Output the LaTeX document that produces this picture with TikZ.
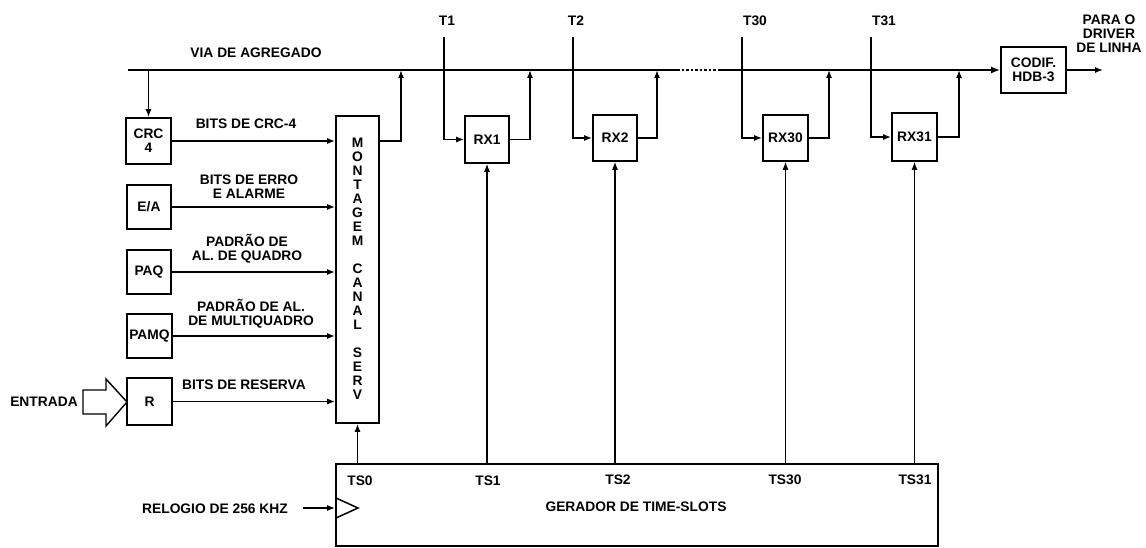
\documentclass[tikz,border=0pt]{standalone}
\usepackage{fontspec}
\setmainfont{Liberation Sans}
\usetikzlibrary{arrows.meta}
\begin{document}
\begin{tikzpicture}[x=1pt,y=-1pt,
  every node/.style={font=\bfseries\fontsize{13.8}{14}\selectfont, inner sep=0pt},
  box/.style={draw, line width=1.6pt, inner sep=0pt, align=center},
  arr/.style={line width=1.5pt, -{Latex[length=8pt,width=6pt]}},
  thinarr/.style={line width=1.1pt, -{Latex[length=8pt,width=6pt]}},
  bus/.style={line width=2.8pt},
  lbl/.style={align=center}]
\useasboundingbox (0,0) rectangle (1146,548);

% boxes
\node[box, minimum width=45pt, minimum height=46pt] (crc) at (148.5,141) {CRC\\4};
\node[box, minimum width=44pt, minimum height=44pt] (ea) at (149,207) {E/A};
\node[box, minimum width=44pt, minimum height=44pt] (paq) at (149,272) {PAQ};
\node[box, minimum width=45pt, minimum height=44pt] (pamq) at (149.5,336) {PAMQ};
\node[box, minimum width=45pt, minimum height=47pt] (r) at (149.5,401.5) {R};
\node[box, minimum width=43pt, minimum height=307pt] (mont) at (357.5,269.5) {};
\node[box, minimum width=44pt, minimum height=47pt] (rx1) at (487,139.5) {RX1};
\node[box, minimum width=44pt, minimum height=46pt] (rx2) at (615,138) {RX2};
\node[box, minimum width=45pt, minimum height=46pt] (rx30) at (785.5,138) {RX30};
\node[box, minimum width=45pt, minimum height=48pt] (rx31) at (914.5,137) {RX31};
\node[box, minimum width=65pt, minimum height=46pt] (codif) at (1033.5,70) {CODIF.\\HDB-3};
\node[box, minimum width=602pt, minimum height=82pt] (gen) at (637,505) {};

% MONTAGEM CANAL SERV letters
\foreach \ch/\k in {M/0,O/1,N/2,T/3,A/4,G/5,E/6,M/7,C/9,A/10,N/11,A/12,L/13,S/15,E/16,R/17,V/18}
  \node (m\k) at (357.5,{143+14*\k}) {\ch};

% bus
\coordinate (busL) at (128,70);
\coordinate (dotA) at (677,70);
\coordinate (dotB) at (718,70);
\draw[bus] (busL) -- (dotA);
\draw[bus, dash pattern=on 2.5pt off 2pt] (dotA) -- (dotB);
\draw[bus, -{Latex[length=9pt,width=7pt]}] (dotB) -- (codif.west);
\node (lvia) at (256,53) {VIA DE AGREGADO};

% CRC drop
\coordinate (crcTop) at (crc.north |- busL);
\draw[arr] (crcTop) -- (crc.north);

% inputs to MONT
\foreach \n in {crc,ea,paq,pamq,r}
  \draw[arr] (\n.east) -- (\n.east -| mont.west);
\node[lbl] (lcrc) at (246,124) {BITS DE CRC-4};
\node[lbl] (lea) at (249,186.5) {BITS DE ERRO\\E ALARME};
\node[lbl] (lpaq) at (247,249) {PADRÃO DE\\AL. DE QUADRO};
\node[lbl] (lpamq) at (251,314) {PADRÃO DE AL.\\DE MULTIQUADRO};
\node[lbl] (lr) at (244,385) {BITS DE RESERVA};

% MONT output
\coordinate (mo) at (401,70);
\draw[arr] (mont.east |- crc.east) -| (mo);

% receivers
\coordinate (t1) at (444,37);
\coordinate (t2) at (573,37);
\coordinate (t30) at (742,37);
\coordinate (t31) at (871,37);
\coordinate (o1) at (530,70);
\coordinate (o2) at (657,70);
\coordinate (o30) at (829,70);
\coordinate (o31) at (959,70);
\draw[arr] (t1) |- (rx1.west);
\draw[arr] (t2) |- (rx2.west);
\draw[arr] (t30) |- (rx30.west);
\draw[arr] (t31) |- (rx31.west);
\draw[arr] (rx1.east) -| (o1);
\draw[arr] (rx2.east) -| (o2);
\draw[arr] (rx30.east) -| (o30);
\draw[arr] (rx31.east) -| (o31);
\node (lt1) at (447,21) {T1};
\node (lt2) at (576,21) {T2};
\node (lt30) at (755,21) {T30};
\node (lt31) at (884,21) {T31};

% codif output
\coordinate (out) at (1103,70);
\draw[arr] (codif.east) -- (out);
\node[lbl] (lout) at (1109,34) {PARA O\\DRIVER\\DE LINHA};

% generator connections
\draw[arr] (gen.north -| mont.south) -- (mont.south);
\draw[thinarr] (gen.north -| rx1.south) -- (rx1.south);
\draw[thinarr] (gen.north -| rx2.south) -- (rx2.south);
\draw[thinarr] (gen.north -| rx30.south) -- (rx30.south);
\draw[thinarr] (gen.north -| rx31.south) -- (rx31.south);
\node (lts0) at (360,481) {TS0};
\node (lts1) at (488,481) {TS1};
\node (lts2) at (618,480) {TS2};
\node (lts30) at (785,480) {TS30};
\node (lts31) at (915,480) {TS31};
\node (lgen) at (636,507) {GERADOR DE TIME-SLOTS};

% clock
\draw[line width=1.5pt] (336,498) -- (358,508) -- (336,518);
\coordinate (clk) at (303,508);
\draw[arr] (clk) -- (clk -| gen.west);
\node (lclk) at (215,509) {RELOGIO DE 256 KHZ};

% entrada
\draw[line width=1.4pt, fill=white] (83,390) -- (106,390) -- (106,379) -- (127,402) -- (106,426) -- (106,414) -- (83,414) -- cycle;
\node (lent) at (44,402) {ENTRADA};
\end{tikzpicture}
\end{document}
